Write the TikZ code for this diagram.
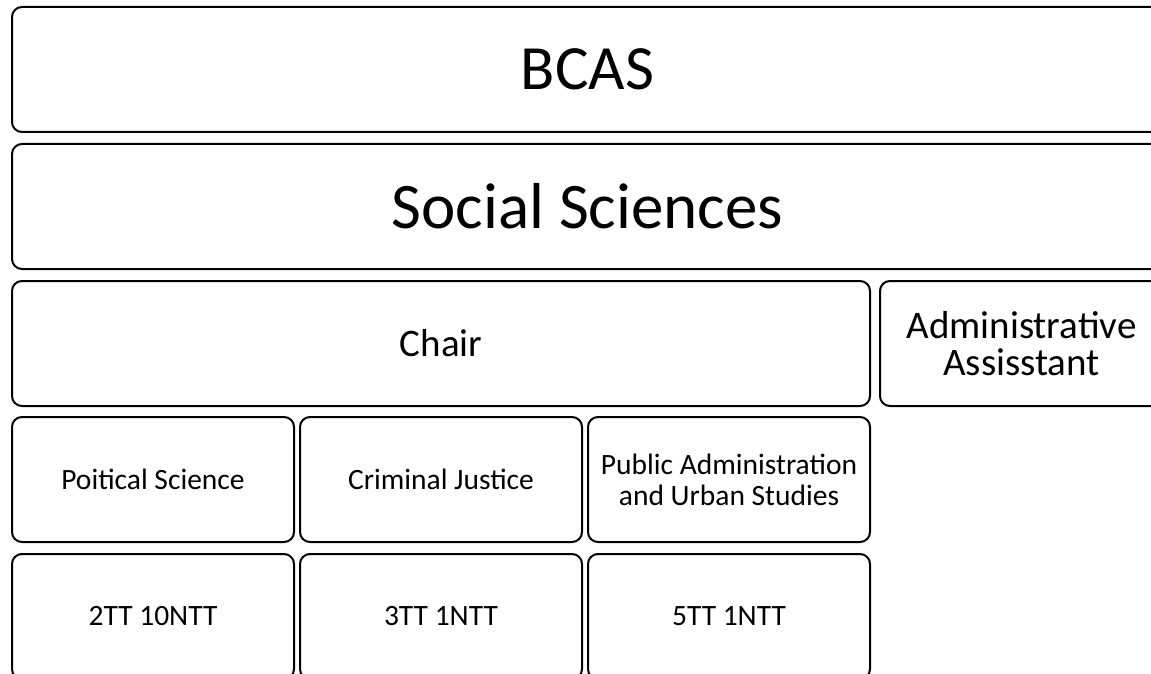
\documentclass[tikz,border=0pt]{standalone}
\usepackage{fontspec}
\setmainfont{Carlito}

\begin{document}
\begin{tikzpicture}[x=1pt, y=-1pt,
    unit/.style={draw, line width=2pt, rounded corners=10pt, fill=white,
        anchor=north west, inner sep=0pt, align=center,
        minimum height=125pt},
    huge/.style={font=\fontsize{63}{70}\selectfont},
    big/.style={font=\fontsize{39}{37}\selectfont},
    small/.style={font=\fontsize{29.5}{31}\selectfont}]

% Fix the page size
\useasboundingbox (0,0) rectangle (1151,674);
\clip (0,0) rectangle (1151,674);

% College and department
\node[unit, huge, minimum width=1151pt] (bcas) at (11,6) {BCAS};
\node[unit, huge, minimum width=1151pt, font=\fontsize{65}{70}\selectfont] (social) at (11,143) {Social Sciences};

% Chair and assistant
\node[unit, big, minimum width=858pt] (chair) at (11,280) {Chair};
\node[unit, big, minimum width=283pt] (admin) at (879,280) {Administrative\\Assisstant};

% Programs
\node[unit, small, minimum width=282pt] (polsci) at (11,416) {Poitical Science};
\node[unit, small, minimum width=282pt] (crimjus) at (299,416) {Criminal Justice};
\node[unit, small, minimum width=282pt] (pubadm) at (587,416) {Public Administration\\and Urban Studies};

% Faculty lines
\node[unit, small, minimum width=282pt] (polstaff) at (11,553) {2TT 10NTT};
\node[unit, small, minimum width=282pt] (cjstaff) at (299,553) {3TT 1NTT};
\node[unit, small, minimum width=282pt] (pastaff) at (587,553) {5TT 1NTT};

\end{tikzpicture}
\end{document}
